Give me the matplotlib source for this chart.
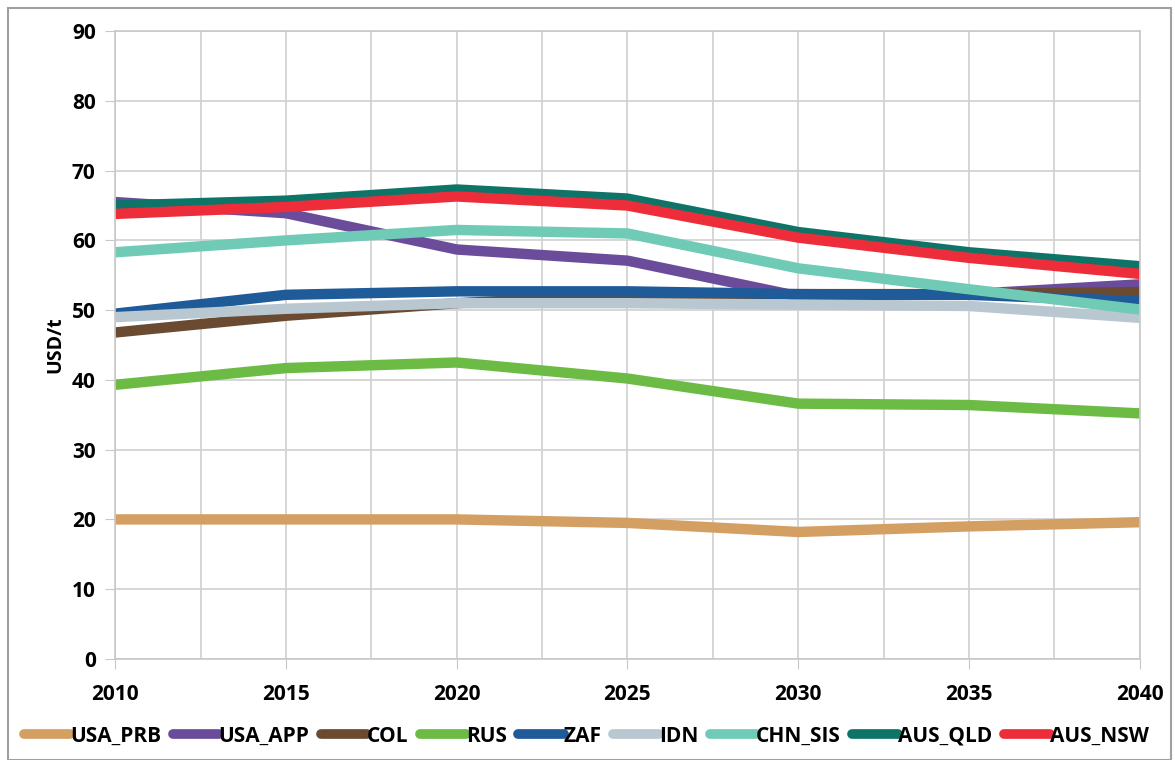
import matplotlib.pyplot as plt
from matplotlib.patches import Rectangle
from matplotlib.ticker import MultipleLocator

plt.rcParams['font.family'] = ['Open Sans', 'DejaVu Sans']
plt.rcParams['font.weight'] = 'bold'

years = [2010, 2015, 2020, 2025, 2030, 2035, 2040]

# USD/t
usa_prb = [20.0, 20.0, 20.0, 19.5, 18.2, 19.0, 19.6]
usa_app = [65.5, 63.9, 58.7, 57.1, 52.0, 52.3, 53.7]
col = [46.8, 49.2, 51.0, 52.2, 52.3, 52.3, 52.6]
rus = [39.3, 41.7, 42.5, 40.2, 36.6, 36.4, 35.2]
zaf = [49.5, 52.2, 52.7, 52.7, 52.3, 52.2, 51.3]
idn = [49.0, 50.2, 51.0, 51.0, 50.8, 50.6, 48.9]
chn_sis = [58.3, 60.0, 61.5, 61.0, 56.0, 53.0, 50.1]
aus_qld = [65.0, 65.7, 67.3, 66.0, 61.2, 58.3, 56.3]
aus_nsw = [63.8, 64.8, 66.3, 65.0, 60.4, 57.5, 55.2]

names = ['USA_PRB', 'USA_APP', 'COL', 'RUS', 'ZAF', 'IDN', 'CHN_SIS', 'AUS_QLD', 'AUS_NSW']
series = [usa_prb, usa_app, col, rus, zaf, idn, chn_sis, aus_qld, aus_nsw]
colors = ['#D39F62', '#6B4C9A', '#6B4A32', '#6CBB45', '#1F5A99',
          '#B9C7D0', '#6FCBB5', '#0E7468', '#EE2D3A']

fig = plt.figure(figsize=(11.75, 7.6), dpi=100)
ax = fig.add_axes([0.098, 0.133, 0.872, 0.826])

for name, vals, c in zip(names, series, colors):
    ax.plot(years, vals, color=c, lw=7.5, label=name, solid_capstyle='butt')

ax.set_xlim(2010, 2040)
ax.set_ylim(0, 90)
ax.xaxis.set_major_locator(MultipleLocator(5))
ax.xaxis.set_minor_locator(MultipleLocator(2.5))
ax.yaxis.set_major_locator(MultipleLocator(10))
ax.grid(True, which='both', axis='x', color='#D0D0D0', lw=1.2)
ax.grid(True, which='major', axis='y', color='#D0D0D0', lw=1.2)
ax.set_axisbelow(True)
for s in ax.spines.values():
    s.set_color('#C8C8C8')
    s.set_linewidth(1.2)
ax.tick_params(axis='x', which='major', length=7, color='#C8C8C8', labelsize=15, pad=11)
ax.tick_params(axis='x', which='minor', length=0)
ax.tick_params(axis='y', length=7, color='#C8C8C8', labelsize=15, pad=7)
for lbl in ax.get_xticklabels() + ax.get_yticklabels():
    lbl.set_fontweight('bold')
ax.set_ylabel('USD/t', fontsize=14, fontweight='bold', labelpad=5)

leg = ax.legend(loc='upper center', bbox_to_anchor=(0.46, -0.093), ncol=9, frameon=False,
                prop={'size': 15, 'weight': 'bold'}, handlelength=2.2, handletextpad=0.0,
                columnspacing=0.55, borderaxespad=0)
for h in leg.get_lines():
    h.set_linewidth(7)
    h.set_solid_capstyle('round')

fig.add_artist(Rectangle((0.007, 0.0), 0.99, 0.99, transform=fig.transFigure,
                         fill=False, edgecolor='#A0A0A0', lw=1.5))

fig.savefig('out.png', dpi=100)
